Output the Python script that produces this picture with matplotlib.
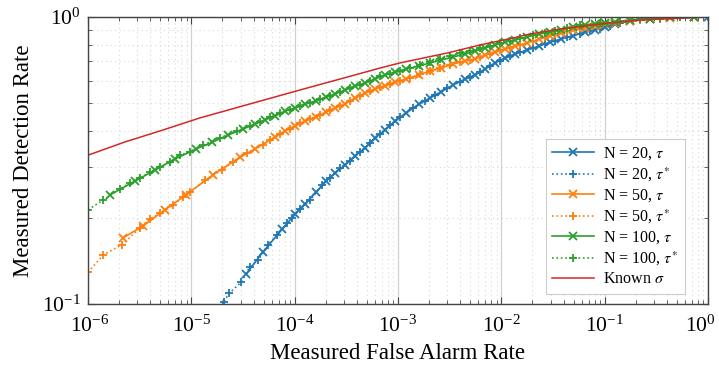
import matplotlib
matplotlib.use("Agg")
import matplotlib.pyplot as plt
from matplotlib.ticker import FixedLocator, LogLocator, NullFormatter, LogFormatterSciNotation
from matplotlib.transforms import ScaledTranslation

plt.rcParams['font.family'] = ['Liberation Serif', 'DejaVu Serif']
plt.rcParams['mathtext.fontset'] = 'stix'

# ---------------- data ----------------
x_ticks = [1e-6, 1e-5, 1e-4, 1e-3, 1e-2, 1e-1, 1e0]
y_ticks = [1e-1, 1e0]

# Known sigma (red line)
known_far = [1.00e-6, 2.28e-6, 5.32e-6, 1.21e-5, 3.70e-5, 1.13e-4, 2.75e-4, 6.71e-4,
             1.05e-3, 2.99e-3, 6.24e-3, 1.30e-2, 1.90e-2, 3.71e-2, 9.04e-2, 0.221, 1.0]
known_pd = [0.330, 0.367, 0.404, 0.445, 0.498, 0.557, 0.608, 0.664,
            0.692, 0.749, 0.799, 0.845, 0.873, 0.908, 0.945, 0.976, 1.0]

# N = 20, tau* (blue, dotted, +)
n20s_far = [2.07e-5, 2.32e-5, 3.03e-5, 3.70e-5, 4.43e-5, 5.52e-5, 6.76e-5, 8.43e-5, 9.44e-5,
            1.13e-4, 1.41e-4, 1.84e-4, 2.20e-4, 2.75e-4, 3.44e-4, 4.30e-4, 5.37e-4, 6.71e-4,
            8.38e-4, 1.05e-3, 1.40e-3, 1.83e-3, 2.29e-3, 2.99e-3, 3.99e-3, 4.99e-3, 6.24e-3,
            7.80e-3, 9.73e-3, 1.22e-2, 1.52e-2, 2.03e-2, 2.65e-2, 3.32e-2, 4.34e-2, 5.79e-2,
            7.24e-2, 9.04e-2, 0.113, 0.141, 0.221, 0.344, 0.538, 1.0]
n20s_pd = [0.102, 0.109, 0.119, 0.135, 0.142, 0.161, 0.174, 0.191, 0.200,
           0.214, 0.230, 0.260, 0.275, 0.298, 0.315, 0.339, 0.364, 0.391,
           0.420, 0.448, 0.482, 0.510, 0.535, 0.566, 0.594, 0.618, 0.643,
           0.675, 0.703, 0.731, 0.755, 0.780, 0.805, 0.825, 0.852, 0.873,
           0.894, 0.908, 0.930, 0.953, 0.976, 0.988, 0.996, 1.0]

# N = 20, tau (blue, solid, x)
n20_far = [3.38e-5, 4.94e-5, 7.55e-5, 1.01e-4, 1.26e-4, 1.61e-4, 2.01e-4, 2.46e-4, 3.08e-4,
           3.84e-4, 4.80e-4, 6.00e-4, 7.50e-4, 9.37e-4, 1.20e-3, 1.60e-3, 2.04e-3, 2.61e-3,
           3.42e-3, 4.46e-3, 5.58e-3, 6.97e-3, 8.71e-3, 1.09e-2, 1.36e-2, 1.78e-2, 2.32e-2,
           2.97e-2, 3.79e-2, 4.95e-2, 6.48e-2, 8.09e-2, 0.101, 0.126, 0.177, 0.276, 0.431,
           0.735, 1.0]
n20_pd = [0.127, 0.152, 0.182, 0.206, 0.223, 0.245, 0.268, 0.286, 0.305,
          0.328, 0.350, 0.379, 0.404, 0.434, 0.463, 0.498, 0.522, 0.548,
          0.580, 0.608, 0.628, 0.659, 0.692, 0.720, 0.743, 0.767, 0.792,
          0.818, 0.838, 0.859, 0.887, 0.901, 0.923, 0.945, 0.968, 0.984, 0.996,
          1.0, 1.0]

# N = 50, tau* (orange, dotted, +)
n50s_far = [1.00e-6, 1.40e-6, 2.13e-6, 3.18e-6, 3.98e-6, 4.98e-6, 6.65e-6, 8.32e-6, 9.71e-6,
            1.36e-5, 1.98e-5, 2.54e-5, 3.46e-5, 4.94e-5, 5.78e-5, 7.23e-5, 9.02e-5,
            1.13e-4, 1.41e-4, 1.76e-4, 2.20e-4, 2.75e-4, 3.44e-4, 4.30e-4, 5.37e-4, 6.71e-4,
            8.38e-4, 1.05e-3, 1.31e-3, 1.64e-3, 2.05e-3, 2.56e-3, 3.19e-3, 3.99e-3, 4.99e-3,
            6.24e-3, 7.80e-3, 9.73e-3, 1.22e-2, 1.52e-2, 2.03e-2, 2.65e-2, 3.32e-2, 4.34e-2,
            5.79e-2, 9.04e-2, 0.141, 0.221, 0.344, 0.538, 1.0]
n50s_pd = [0.129, 0.148, 0.161, 0.184, 0.198, 0.207, 0.221, 0.236, 0.245,
           0.270, 0.293, 0.313, 0.336, 0.358, 0.372, 0.391, 0.407,
           0.428, 0.442, 0.456, 0.474, 0.490, 0.510, 0.530, 0.552, 0.570,
           0.584, 0.598, 0.612, 0.633, 0.648, 0.664, 0.681, 0.697, 0.708,
           0.726, 0.743, 0.767, 0.780, 0.799, 0.825, 0.852, 0.873, 0.894,
           0.916, 0.938, 0.961, 0.976, 0.988, 0.996, 1.0]

# N = 50, tau (orange, solid, x)
n50_far = [2.18e-6, 3.41e-6, 5.56e-6, 8.89e-6, 1.62e-5, 2.96e-5, 4.14e-5, 6.46e-5, 8.07e-5,
           1.01e-4, 1.26e-4, 1.61e-4, 2.01e-4, 2.46e-4, 3.08e-4, 3.84e-4, 4.80e-4, 6.00e-4,
           7.50e-4, 9.37e-4, 1.20e-3, 1.60e-3, 2.04e-3, 2.61e-3, 3.42e-3, 4.46e-3, 5.58e-3,
           6.97e-3, 8.71e-3, 1.09e-2, 1.36e-2, 1.78e-2, 2.32e-2, 2.97e-2, 3.79e-2, 4.95e-2,
           6.48e-2, 8.09e-2, 0.101, 0.126, 0.177, 0.276, 0.431, 0.735]
n50_pd = [0.170, 0.187, 0.213, 0.240, 0.282, 0.325, 0.347, 0.382, 0.401,
          0.417, 0.434, 0.448, 0.467, 0.482, 0.498, 0.522, 0.543, 0.561,
          0.575, 0.594, 0.608, 0.628, 0.648, 0.664, 0.686, 0.703, 0.714,
          0.737, 0.755, 0.774, 0.792, 0.812, 0.838, 0.859, 0.880, 0.901,
          0.916, 0.930, 0.945, 0.953, 0.968, 0.984, 0.992, 1.0]

# N = 100, tau* (green, dotted, +)
n100s_far = [1.00e-6, 1.40e-6, 2.04e-6, 2.55e-6, 3.18e-6, 3.98e-6, 4.98e-6, 6.22e-6, 7.78e-6,
             9.71e-6, 1.30e-5, 1.90e-5, 2.77e-5, 3.70e-5, 4.63e-5, 5.78e-5, 7.23e-5, 9.02e-5,
             1.13e-4, 1.41e-4, 1.76e-4, 2.20e-4, 2.75e-4, 3.44e-4, 4.30e-4, 5.37e-4, 6.71e-4,
             8.38e-4, 1.05e-3, 1.31e-3, 1.64e-3, 2.05e-3, 2.56e-3, 3.19e-3, 3.99e-3, 4.99e-3,
             6.24e-3, 7.80e-3, 9.73e-3, 1.22e-2, 1.52e-2, 2.03e-2, 2.65e-2, 3.32e-2, 4.34e-2,
             5.79e-2, 9.04e-2, 0.141, 0.221, 0.344, 0.538, 1.0]
n100s_pd = [0.213, 0.230, 0.252, 0.264, 0.275, 0.288, 0.300, 0.313, 0.330,
            0.339, 0.358, 0.379, 0.401, 0.417, 0.431, 0.448, 0.463, 0.474,
            0.490, 0.502, 0.518, 0.530, 0.548, 0.566, 0.580, 0.598, 0.623,
            0.633, 0.648, 0.664, 0.681, 0.697, 0.714, 0.731, 0.749, 0.761,
            0.780, 0.792, 0.812, 0.825, 0.845, 0.866, 0.880, 0.894, 0.916,
            0.938, 0.953, 0.968, 0.984, 0.992, 0.997, 1.0]

# N = 100, tau (green, solid, x)
n100_far = [1.63e-6, 2.85e-6, 4.45e-6, 6.95e-6, 1.11e-5, 1.59e-5, 2.27e-5, 3.17e-5, 4.14e-5,
            5.17e-5, 6.46e-5, 8.07e-5, 1.01e-4, 1.26e-4, 1.61e-4, 2.01e-4, 2.46e-4, 3.08e-4,
            3.84e-4, 4.80e-4, 6.00e-4, 7.50e-4, 9.37e-4, 1.20e-3, 1.60e-3, 2.04e-3, 2.61e-3,
            3.42e-3, 4.46e-3, 5.58e-3, 6.97e-3, 8.71e-3, 1.09e-2, 1.36e-2, 1.78e-2, 2.32e-2,
            2.97e-2, 3.79e-2, 4.95e-2, 6.48e-2, 8.09e-2, 0.101, 0.126, 0.177, 0.276, 0.431,
            0.735]
n100_pd = [0.240, 0.268, 0.293, 0.320, 0.347, 0.366, 0.388, 0.407, 0.424,
           0.438, 0.452, 0.470, 0.482, 0.498, 0.510, 0.526, 0.539, 0.557,
           0.575, 0.589, 0.608, 0.628, 0.643, 0.659, 0.675, 0.692, 0.708,
           0.726, 0.743, 0.761, 0.780, 0.799, 0.818, 0.832, 0.852, 0.873,
           0.887, 0.901, 0.923, 0.938, 0.945, 0.953, 0.961, 0.976, 0.988, 0.996,
           1.0]

BLUE, ORANGE, GREEN, RED = '#1f77b4', '#ff7f0e', '#2ca02c', '#d62728'

series = [
    (n20_far, n20_pd, BLUE, '-', 'x', r'N = 20, $\tau$'),
    (n20s_far, n20s_pd, BLUE, ':', '+', r'N = 20, $\tau^{*}$'),
    (n50_far, n50_pd, ORANGE, '-', 'x', r'N = 50, $\tau$'),
    (n50s_far, n50s_pd, ORANGE, ':', '+', r'N = 50, $\tau^{*}$'),
    (n100_far, n100_pd, GREEN, '-', 'x', r'N = 100, $\tau$'),
    (n100s_far, n100s_pd, GREEN, ':', '+', r'N = 100, $\tau^{*}$'),
]

fig = plt.figure(figsize=(7.19, 3.67), dpi=100)
ax = fig.add_axes([88/719, 1-304/367, (708-88)/719, (304-17)/367])

for far, pd_, c, ls, mk, lab in series:
    ax.plot(far, pd_, color=c, linestyle=ls, linewidth=1.2, marker=mk,
            markersize=5.5, markeredgewidth=1.3, label=lab)
ax.plot(known_far, known_pd, color=RED, linewidth=1.1, label=r'Known $\sigma$')

ax.set_xscale('log')
ax.set_yscale('log')
ax.set_xlim(1e-6, 1.0)
ax.set_ylim(0.1, 1.0)

ax.xaxis.set_major_locator(FixedLocator(x_ticks))
ax.yaxis.set_major_locator(FixedLocator(y_ticks))
ax.xaxis.set_major_formatter(LogFormatterSciNotation())
ax.yaxis.set_major_formatter(LogFormatterSciNotation())
ax.xaxis.set_minor_locator(LogLocator(base=10, subs=range(2, 10), numticks=20))
ax.yaxis.set_minor_locator(LogLocator(base=10, subs=range(2, 10), numticks=20))
ax.xaxis.set_minor_formatter(NullFormatter())
ax.yaxis.set_minor_formatter(NullFormatter())

ax.grid(True, which='major', color='#d0d0d0', linewidth=0.9, linestyle='-')
ax.grid(True, which='minor', color='#d8d8d8', linewidth=0.8, linestyle=(0, (1, 3)))
ax.set_axisbelow(True)

ax.tick_params(which='both', direction='in', top=True, right=True, color='#444444')
ax.tick_params(which='major', length=5, labelsize=15.5, pad=5)
ax.tick_params(axis='x', which='major', pad=8)
ax.tick_params(which='minor', length=3)
for s in ax.spines.values():
    s.set_color('#444444')
    s.set_linewidth(1.0)

ax.set_xlabel('Measured False Alarm Rate', fontsize=16.5, labelpad=5)
ax.set_ylabel('Measured Detection Rate', fontsize=16.5, labelpad=6)

leg = ax.legend(loc='lower right', fontsize=11.5, frameon=True, fancybox=False,
                edgecolor='#cccccc', framealpha=1.0, handlelength=2.6,
                borderpad=0.4, labelspacing=0.22, handletextpad=0.6,
                bbox_to_anchor=(0.975, 0.008))
leg.get_frame().set_linewidth(0.8)

# keep the outermost x tick labels inside the canvas
fig.canvas.draw()
for lbl in ax.get_xticklabels():
    pos = lbl.get_position()[0]
    if abs(pos - 1.0) < 1e-9:
        lbl.set_transform(lbl.get_transform() + ScaledTranslation(-8/100, 0, fig.dpi_scale_trans))
    elif abs(pos - 1e-6) < 1e-12:
        lbl.set_transform(lbl.get_transform() + ScaledTranslation(2/100, 0, fig.dpi_scale_trans))

fig.savefig('out.png', dpi=100)
